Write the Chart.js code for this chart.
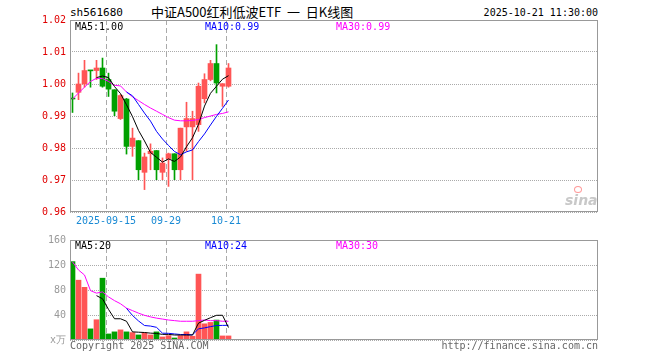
<!DOCTYPE html>
<html>
<head>
<meta charset="utf-8">
<script src="https://cdn.jsdelivr.net/npm/chart.js@4/dist/chart.umd.min.js"></script>
<style>
body{margin:0;background:#fff;width:660px;height:360px;position:relative;overflow:hidden;font-family:"DejaVu Sans Mono",monospace;}
.t{position:absolute;white-space:nowrap;font-size:10px;line-height:12px;}
canvas{position:absolute;left:0;}
</style>
</head>
<body>
<div class="t" style="left:70px;top:7px;font-size:11px;color:#000">sh561680</div>
<div class="t" style="left:151px;top:3px;font-family:'Noto Sans CJK SC';font-size:13px;line-height:18px;color:#000">中证A500红利低波ETF&nbsp; 一 &nbsp;日K线图</div>
<div class="t" style="right:62px;top:7px;color:#000">2025-10-21 11:30:00</div>

<canvas id="k" width="660" height="230" style="top:0"></canvas>
<canvas id="v" width="660" height="130" style="top:230px"></canvas>

<div class="t" style="left:75px;top:21px;color:#000">MA5:1.00</div>
<div class="t" style="left:205px;top:21px;color:#0000ff">MA10:0.99</div>
<div class="t" style="left:336px;top:21px;color:#ff00ff">MA30:0.99</div>

<div class="t" style="left:75px;top:240px;color:#000">MA5:20</div>
<div class="t" style="left:205px;top:240px;color:#0000ff">MA10:24</div>
<div class="t" style="left:336px;top:240px;color:#ff00ff">MA30:30</div>

<div style="position:absolute;left:574px;top:186px;width:6px;height:5px;border:1px solid #f99;border-radius:50%"></div>
<div class="t" style="left:565px;top:192px;font-family:'DejaVu Sans';font-style:italic;font-weight:bold;font-size:14px;line-height:16px;color:#c8c8c8">sina</div>

<div class="t" style="left:70px;top:340px;color:#666">Copyright 2025 SINA.COM</div>
<div class="t" style="right:62px;top:340px;color:#666">http://finance.sina.com.cn</div>

<script>
// daily candles, 2025-09-05 .. 2025-10-21
const open  = [0.9955,0.9974,1.0000,1.0042,1.0042,1.0050,1.0014,0.9982,0.9892,0.9953,0.9805,0.9823,0.9724,0.9782,0.9792,0.9724,0.9767,0.9782,0.9732,0.9866,0.9866,0.9873,0.9954,1.0014,1.0064,0.9993,0.9993];
const close = [0.9953,1.0000,1.0042,1.0041,1.0050,0.9993,0.9984,0.9915,0.9964,0.9805,0.9831,0.9732,0.9772,0.9790,0.9732,0.9753,0.9782,0.9732,0.9862,0.9892,0.9892,0.9993,1.0014,1.0064,1.0003,1.0001,1.0050];
const high  = [0.9972,1.0034,1.0074,1.0042,1.0074,1.0081,1.0034,0.9982,0.9967,0.9955,0.9862,0.9823,0.9784,0.9813,0.9792,0.9769,0.9784,0.9782,0.9862,0.9943,0.9915,1.0003,1.0032,1.0074,1.0123,1.0001,1.0064];
const low   = [0.9911,0.9951,0.9990,0.9990,1.0014,0.9990,0.9961,0.9901,0.9889,0.9781,0.9774,0.9701,0.9670,0.9732,0.9701,0.9701,0.9680,0.9701,0.9701,0.9790,0.9701,0.9852,0.9941,1.0010,0.9972,0.9930,0.9990];

// moving averages as drawn (first index where each line starts)
const ma5Start = 4;
const ma5  = [1.0020,1.0025,1.0020,0.9992,0.9970,0.9935,0.9898,0.9855,0.9822,0.9786,0.9771,0.9756,0.9766,0.9758,0.9772,0.9804,0.9832,0.9874,0.9931,0.9971,0.9993,1.0015,1.0026];
const ma10Start = 9;
const ma10 = [0.9975,0.9963,0.9936,0.9909,0.9884,0.9852,0.9828,0.9808,0.9789,0.9779,0.9788,0.9794,0.9820,0.9844,0.9872,0.9899,0.9924,0.9950];
const ma30Start = 0;
const ma30 = [0.9953,0.9972,0.9990,1.0008,1.0018,1.0017,1.0008,0.9996,0.9994,0.9975,0.9960,0.9948,0.9936,0.9925,0.9915,0.9905,0.9895,0.9887,0.9885,0.9885,0.9886,0.9889,0.9895,0.9900,0.9905,0.9908,0.9913];

// volume, in 10k lots
const volume = [125.4,95.7,84.3,17.8,32.4,98.9,9.7,13,16.2,13,11.9,8.1,11.4,8.1,13,4.9,7,3.2,7,13,6,105.4,25.9,28.1,31.9,6.5,6.5];
const vma5  = [71,66,49,34,34,30,13,12.5,12,11,10.5,9,9,8,8,8,8,27,31.5,35.7,39.5,39.6,20];
const vma10 = [50.6,39.3,30.5,23.2,22.3,20.3,10.9,10.7,9.7,8.8,8.8,8.2,17.9,19.4,21.4,23.2,23.4,23.5];
const vma30 = [125,112,104,79,75,77,69,63,58,51,47,43,39.5,37,35,33.5,32,31,30,30,30,31,32,31,31,30,30];

const priceTicks = [0.96,0.97,0.98,0.99,1.00,1.01,1.02];
const volTicks = [0,40,80,120,160];
const tickSlots = [6,16,26];
const tickLabels = ['2025-09-15','09-29','10-21'];

const UP = '#ff5555', DOWN = '#00a000';
const SLOTS = 88;
const C = 5 / 12; // candle sits inside its slot, date line marks slot start
const colors = open.map((o, i) => close[i] >= o ? UP : DOWN);
const pts = (arr, start) => arr.map((v, k) => ({x: start + k + C, y: v}));
const mono = {family: 'DejaVu Sans Mono', size: 10};

const frame = {
  id: 'frame',
  afterDraw(chart) {
    const {ctx, chartArea: a} = chart;
    ctx.save();
    ctx.strokeStyle = '#999';
    ctx.lineWidth = 1;
    ctx.strokeRect(a.left + 0.5, a.top + 0.5, a.width - 1, a.height - 1);
    ctx.restore();
  }
};

function xAxis(labels, h) {
  return {
    type: 'linear', min: 0, max: SLOTS, offset: false,
    afterBuildTicks: s => { s.ticks = tickSlots.map(v => ({value: v})); },
    afterFit: s => { s.height = h; },
    ticks: {display: labels, autoSkip: false, maxRotation: 0, padding: 3,
            color: '#1a8ad4', font: mono, callback: (v, i) => tickLabels[i]},
    grid: {color: '#aaa', drawTicks: false, offset: false},
    border: {display: false, dash: [5, 3]}
  };
}

function yAxis(ticks, color, cb) {
  return {
    min: ticks[0], max: ticks[ticks.length - 1],
    afterBuildTicks: s => { s.ticks = ticks.map(v => ({value: v})); },
    afterFit: s => { s.width = 70; },
    ticks: {color: color, font: mono, padding: 4, callback: cb},
    grid: {color: '#aaa', drawTicks: false},
    border: {display: false, dash: [1, 1]}
  };
}

const line = (data, color) => ({
  type: 'line', data: data, borderColor: color, borderWidth: 1,
  pointRadius: 0, tension: 0, fill: false, order: 0
});

const common = {
  responsive: false, animation: false, events: [],
  plugins: {legend: {display: false}, tooltip: {enabled: false}}
};

new Chart(document.getElementById('k'), {
  type: 'bar',
  data: {
    datasets: [
      {data: high.map((h, i) => ({x: i + C, y: [low[i], h]})), backgroundColor: colors,
       barThickness: 1, grouped: false, order: 2, minBarLength: 1},
      {data: open.map((o, i) => ({x: i + C, y: [Math.min(o, close[i]), Math.max(o, close[i])]})),
       backgroundColor: colors, barThickness: 5, grouped: false, order: 1, minBarLength: 1},
      line(pts(ma5, ma5Start), '#000'),
      line(pts(ma10, ma10Start), '#0000ff'),
      line(pts(ma30, ma30Start), '#ff00ff')
    ]
  },
  options: Object.assign({}, common, {
    layout: {padding: {left: 0, right: 62, top: 20, bottom: 0}},
    scales: {
      x: xAxis(true, 18),
      y: yAxis(priceTicks, '#e00000', v => v.toFixed(2))
    }
  }),
  plugins: [frame]
});

new Chart(document.getElementById('v'), {
  type: 'bar',
  data: {
    datasets: [
      {data: volume.map((v, i) => ({x: i + C, y: v})), backgroundColor: colors,
       barThickness: 5, grouped: false, order: 1},
      line(pts(vma5, ma5Start), '#000'),
      line(pts(vma10, ma10Start), '#0000ff'),
      line(pts(vma30, ma30Start), '#ff00ff')
    ]
  },
  options: Object.assign({}, common, {
    layout: {padding: {left: 0, right: 62, top: 10, bottom: 0}},
    scales: {
      x: xAxis(false, 20),
      y: yAxis(volTicks, '#999', v => v === 0 ? 'x万' : String(v))
    }
  }),
  plugins: [frame]
});
</script>
</body>
</html>
